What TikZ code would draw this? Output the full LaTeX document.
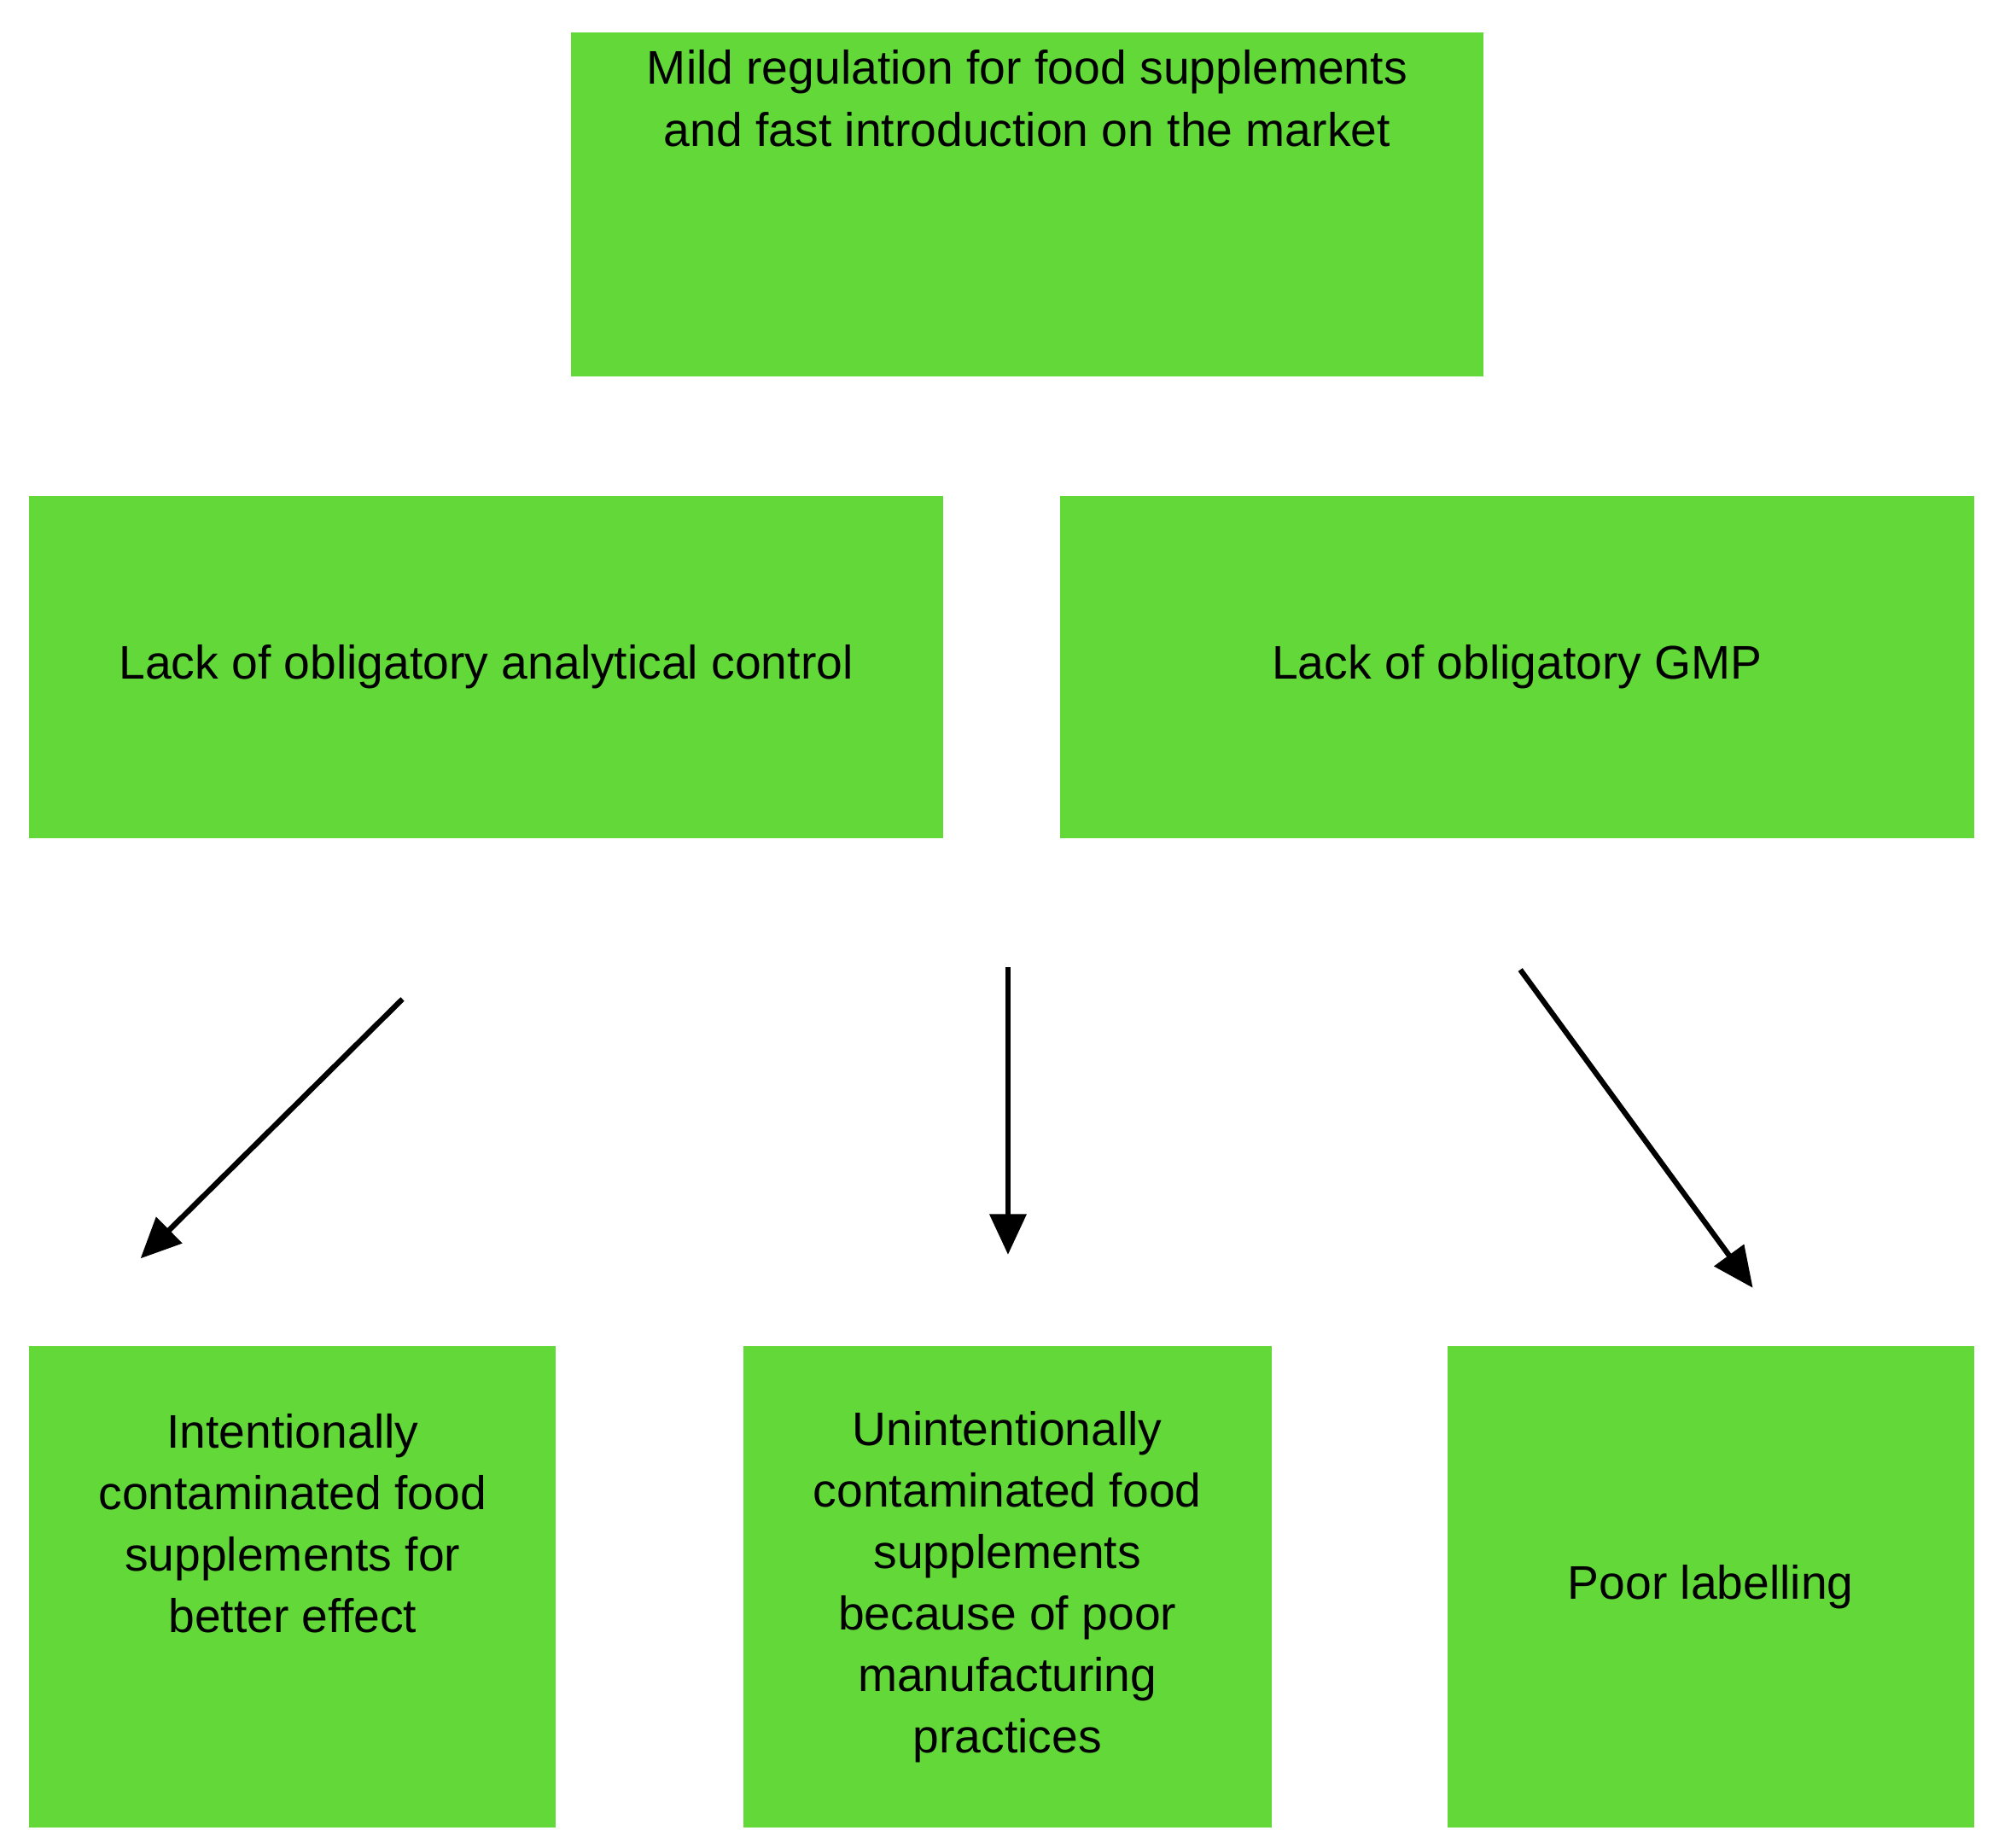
\documentclass[tikz,border=0pt]{standalone}
\usepackage{fontspec}
\setmainfont{Liberation Sans}
\usetikzlibrary{arrows.meta}
\definecolor{boxgreen}{RGB}{98,217,56}
\tikzset{
  box/.style={fill=boxgreen, draw=none, inner sep=2pt, align=center,
    font=\fontsize{10.5}{13.7}\selectfont},
  arr/.style={-{Triangle[width=8pt,length=9pt]}, line width=1.2pt},
}
\begin{document}
\begin{tikzpicture}[x=0.01cm, y=-0.01cm]
  \useasboundingbox (0,0) rectangle (1560,1446);
  % boxes
  \node[box, minimum width=7.14cm, minimum height=2.69cm] (reg) at (804,160)
    {Mild regulation for food supplements\\and fast introduction on the market\\[3.2em]};
  \node[box, minimum width=7.15cm, minimum height=2.68cm] (anal) at (380.5,522)
    {Lack of obligatory analytical control};
  \node[box, minimum width=7.15cm, minimum height=2.68cm] (gmp) at (1187.5,522)
    {Lack of obligatory GMP};
  \node[box, minimum width=4.12cm, minimum height=3.76cm] (intent) at (229,1242)
    {Intentionally\\contaminated food\\supplements for\\better effect\\[1.4em]};
  \node[box, minimum width=4.13cm, minimum height=3.76cm] (unint) at (788.5,1242)
    {Unintentionally\\contaminated food\\supplements\\because of poor\\manufacturing\\practices};
  \node[box, minimum width=4.12cm, minimum height=3.76cm] (label) at (1339,1242)
    {Poor labelling};
  % arrows
  \coordinate (a1) at (315,782);  \coordinate (b1) at (110,985);
  \coordinate (a2) at (789,757);  \coordinate (b2) at (789,982);
  \coordinate (a3) at (1190,759); \coordinate (b3) at (1372,1008);
  \draw[arr] (a1) -- (b1);
  \draw[arr] (a2) -- (b2);
  \draw[arr] (a3) -- (b3);
\end{tikzpicture}
\end{document}
